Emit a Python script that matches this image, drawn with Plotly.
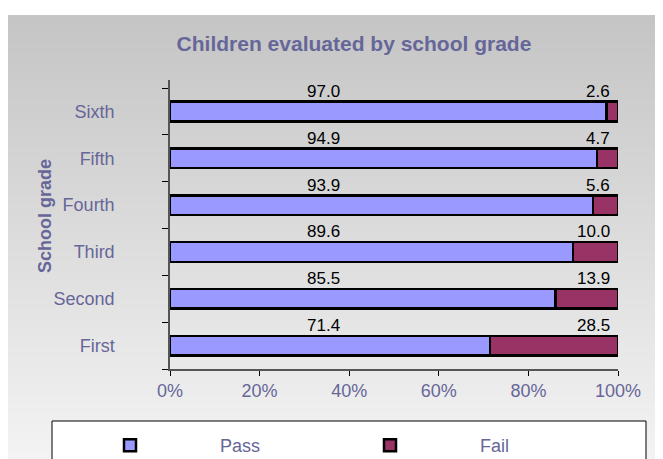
import plotly.graph_objects as go

# data
grades = ["First", "Second", "Third", "Fourth", "Fifth", "Sixth"]
pass_pct = [71.4, 85.5, 89.6, 93.9, 94.9, 97.0]
fail_pct = [28.5, 13.9, 10.0, 5.6, 4.7, 2.6]
xticks = [0, 20, 40, 60, 80, 100]

# the page puts the figure 8px in from the corner, so work in page pixels and shift
OFF = 8
W, H = 663 - OFF, 459 - OFF
L, R, T, B = 170 - OFF, 45, 80 - OFF, 90
pw, ph = W - L - R, H - T - B
txt = "#666699"
font = "Liberation Sans, Arial, sans-serif"


def px2x(px):
    return (px - OFF - L) / pw


def px2y(py):
    return (H - B - (py - OFF)) / ph


pad = "\u00a0" * 14
fig = go.Figure()
fig.add_trace(go.Bar(y=grades, x=pass_pct, name=pad + "Pass", orientation="h",
                     marker=dict(color="#9999FF", line=dict(color="black", width=2.5))))
fig.add_trace(go.Bar(y=grades, x=fail_pct, name=pad + "Fail", orientation="h",
                     marker=dict(color="#993366", line=dict(color="black", width=2.5))))

#gray gradient behind the chart
shapes = []
n = 48
top, bot = 15, 470
for i in range(n):
    y0 = top + (bot - top) * i / n
    y1 = top + (bot - top) * (i + 1) / n + 1
    c = int(197 + (245 - 197) * i / (n - 1))
    shapes.append(dict(type="rect", xref="paper", yref="paper", layer="below",
                       x0=px2x(8), x1=px2x(700), y0=px2y(y1), y1=px2y(y0),
                       fillcolor=f"rgb({c},{c},{c})", line=dict(width=0)))
#legend box
shapes.append(dict(type="rect", xref="paper", yref="paper", layer="below",
                   x0=px2x(52), x1=px2x(646), y0=px2y(480), y1=px2y(421),
                   fillcolor="white", line=dict(color="black", width=1)))

annotations = []
for g, p, f in zip(grades, pass_pct, fail_pct):
    annotations.append(dict(x=34.2, y=g, yshift=20, text=f"{p:.1f}", showarrow=False,
                            xanchor="center", font=dict(size=17, color="black", family=font)))
    annotations.append(dict(x=98.6, y=g, yshift=20, text=f"{f:.1f}", showarrow=False,
                            xanchor="right", font=dict(size=17, color="black", family=font)))
annotations.append(dict(xref="paper", yref="paper", x=px2x(45), y=px2y(216),
                        xanchor="center", yanchor="middle",
                        text="<b>School grade</b>", textangle=-90, showarrow=False,
                        font=dict(size=18, color=txt, family=font)))

fig.update_layout(
    width=W, height=H,
    margin=dict(l=L, r=R, t=T, b=B, autoexpand=False),
    paper_bgcolor="white", plot_bgcolor="rgba(0,0,0,0)",
    barmode="stack", barnorm="percent", bargap=0.58,
    title=dict(text="<b>Children evaluated by school grade</b>", xref="container", yref="container",
               x=(354 - OFF) / W, y=1 - (44 - OFF) / H, xanchor="center", yanchor="middle",
               font=dict(size=21, color=txt, family=font)),
    font=dict(family=font, size=18, color=txt),
    shapes=shapes, annotations=annotations,
    legend=dict(orientation="h", x=px2x(110), y=px2y(427), xanchor="left", yanchor="top",
                traceorder="normal", bgcolor="rgba(0,0,0,0)", entrywidth=215,
                font=dict(size=18, color=txt)),
    showlegend=True,
)
fig.update_xaxes(range=[0, 100], tickvals=xticks, ticktext=[f"{v}%" for v in xticks],
                 ticks="outside", ticklen=5, tickcolor="black", showline=True, linecolor="#555555",
                 linewidth=1.5, showgrid=False, zeroline=False, tickfont=dict(size=18, color=txt))
fig.update_yaxes(categoryorder="array", categoryarray=grades, tickson="boundaries",
                 ticks="outside", ticklen=6, tickcolor="black", showline=True, linecolor="#555555",
                 linewidth=1.5, showgrid=False, ticklabelstandoff=50, tickfont=dict(size=18, color=txt))

fig.write_html("out.html")
